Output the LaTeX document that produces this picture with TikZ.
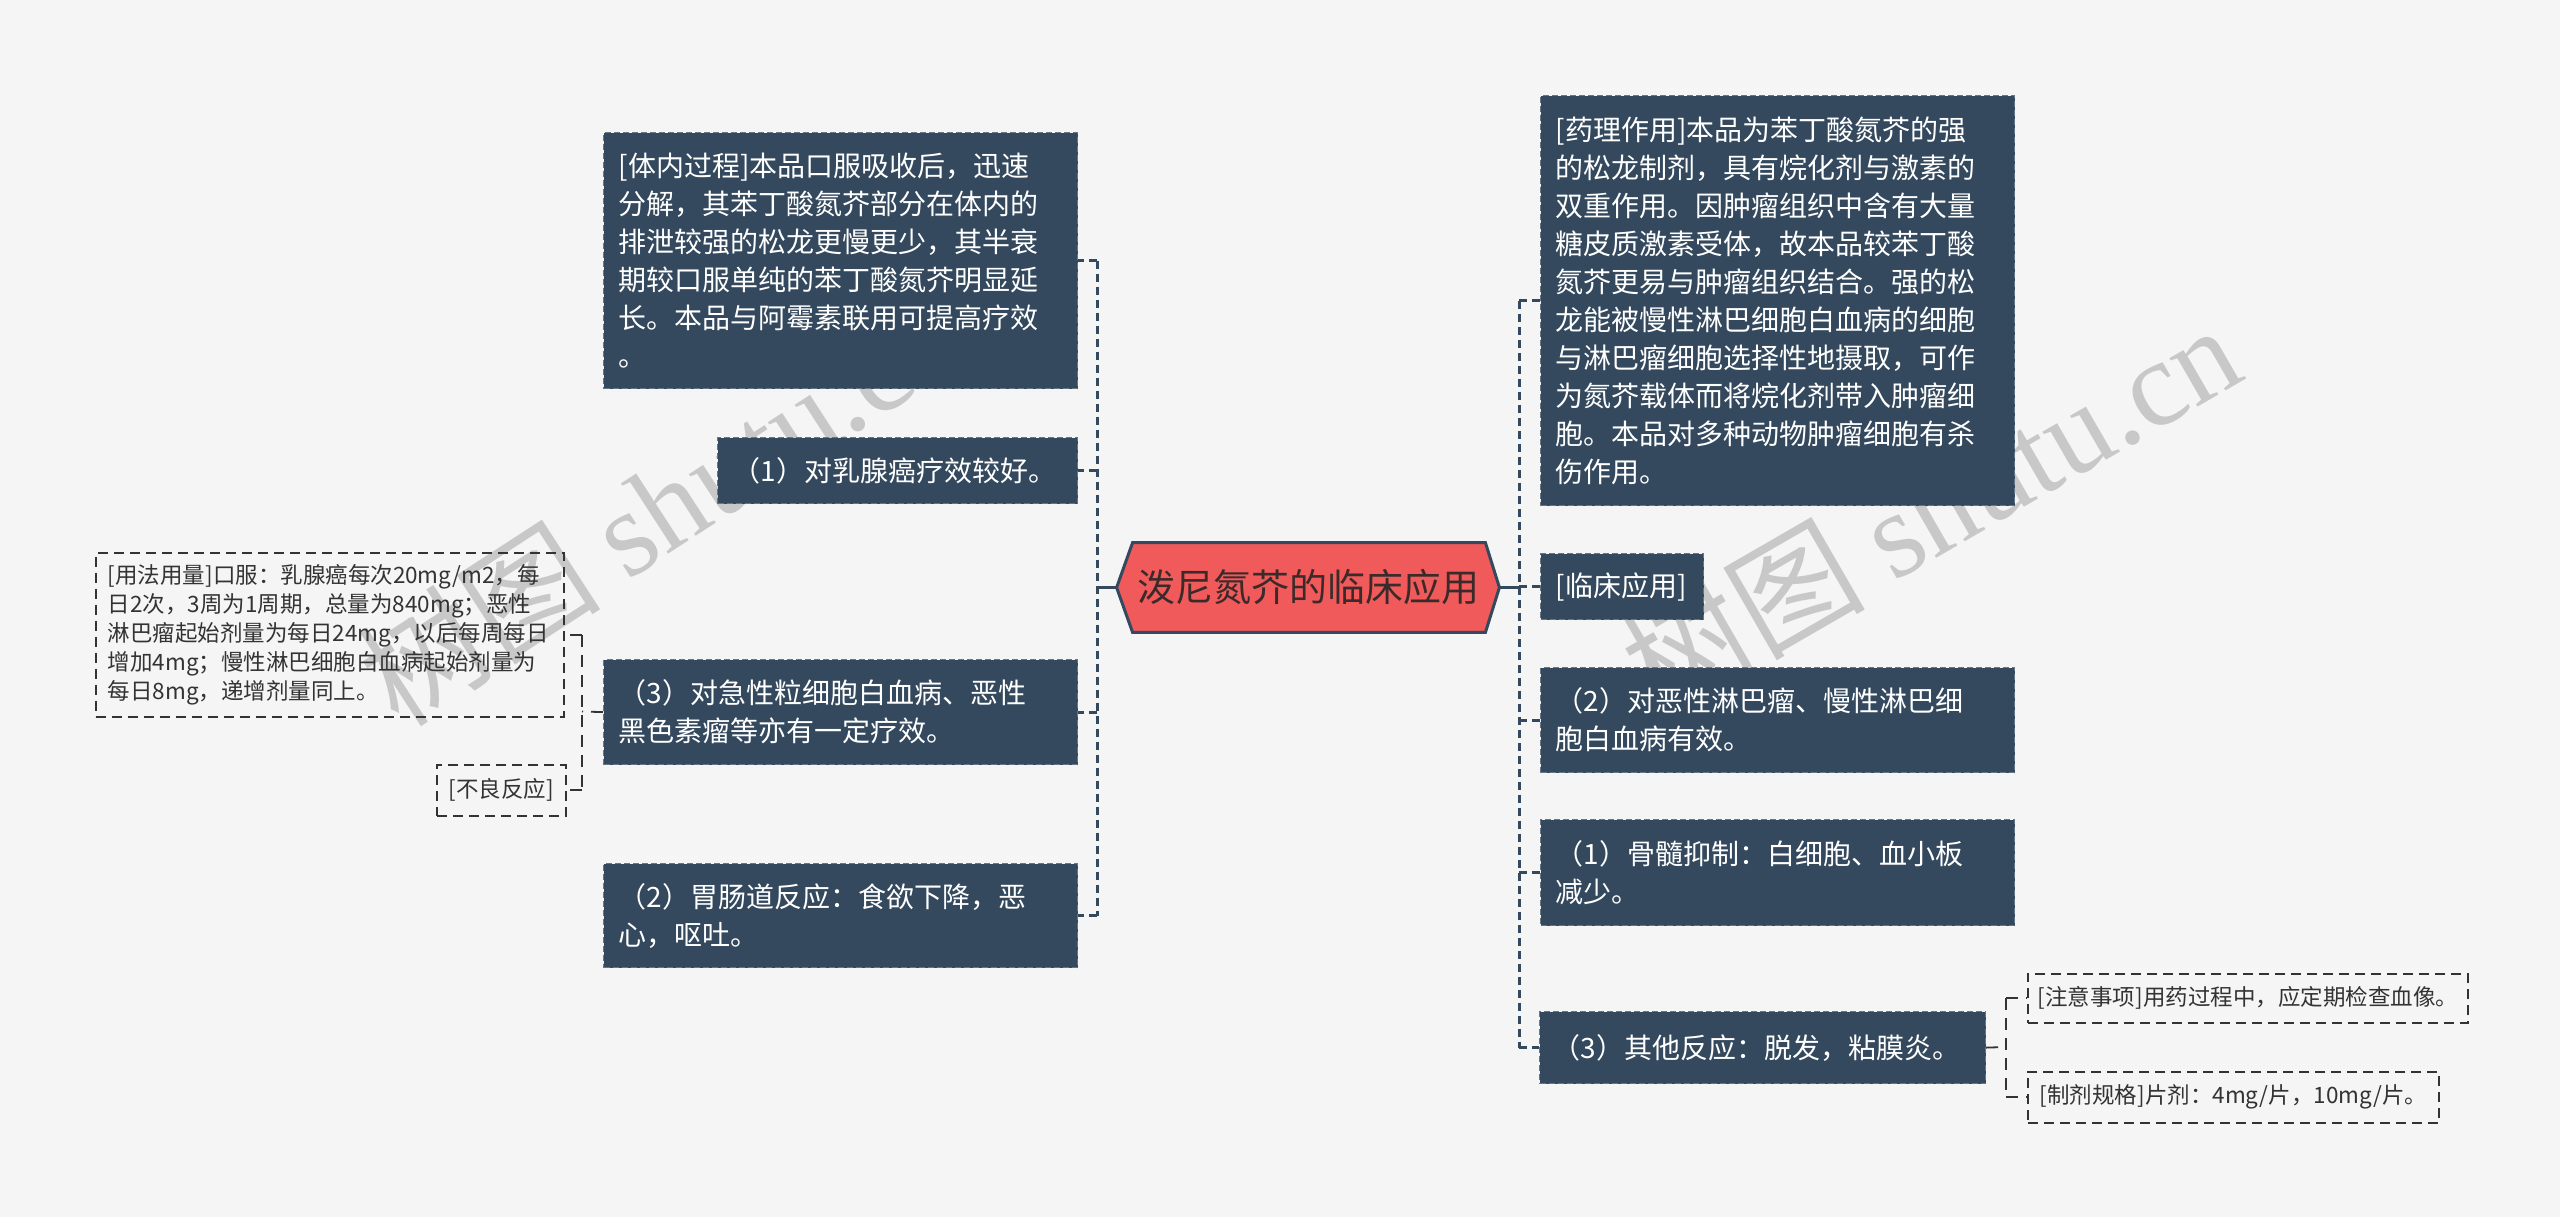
\documentclass[tikz,border=0pt]{standalone}
\usepackage{fontspec}
\setmainfont{Noto Sans CJK SC}
\newfontfamily\wmlatin{Liberation Serif}
\usetikzlibrary{backgrounds}
\definecolor{bgc}{HTML}{F5F5F5}
\definecolor{boxc}{HTML}{34495E}
\definecolor{rootc}{HTML}{F05A5A}
\definecolor{roottext}{HTML}{3C2A2A}
\definecolor{txtc}{HTML}{333333}
\definecolor{wmc}{HTML}{C8C8C8}
\tikzset{
  darkbox/.style={anchor=north west, fill=boxc, draw=boxc!75!white, dash pattern=on 3pt off 1.5pt,
    line width=0.6pt, text=white, align=left, inner xsep=7.5pt, inner ysep=0pt,
    font=\fontsize{14}{19}\selectfont},
  lightbox/.style={anchor=north west, draw=txtc, dash pattern=on 5pt off 3pt, line width=0.8pt,
    text=txtc, align=left, inner xsep=6pt, inner ysep=0pt, font=\fontsize{11.25}{14.5}\selectfont},
  rootnode/.style={minimum width=191pt, minimum height=44.5pt, inner sep=0pt, text=roottext,
    font=\fontsize{19}{22}\selectfont},
  hexshape/.style={fill=rootc, draw=boxc, line width=1.5pt, line join=miter},
  trunk/.style={draw=boxc, line width=1.5pt},
  bracket/.style={draw=boxc, line width=1.5pt, dash pattern=on 4pt off 2.5pt},
  thinline/.style={draw=txtc, line width=0.9pt, dash pattern=on 6pt off 4pt},
  watermark/.style={text=wmc, inner sep=0pt, font=\fontsize{61}{66}\selectfont},
}
\begin{document}
\begin{tikzpicture}[x=0.5pt, y=-0.5pt]
\useasboundingbox (0,0) rectangle (2560,1217);
\begin{scope}[on background layer]
  \fill[bgc] (0,0) rectangle (2560,1217);
  \node[watermark, rotate=33] (wm1) at (660,505) {树图 {\wmlatin shutu.cn}};
  \node[watermark, rotate=30] (wm2) at (1930,508) {树图 {\wmlatin shutu.cn}};
\end{scope}

% root
\node[rootnode] (root) at (1308,587.5) {泼尼氮芥的临床应用};
\begin{scope}[on background layer]
  \draw[hexshape] (root.west) -- ([xshift=8pt]root.north west) -- ([xshift=-7pt]root.north east)
    -- (root.east) -- ([xshift=-7pt]root.south east) -- ([xshift=8pt]root.south west) -- cycle;
\end{scope}

% left boxes
\node[darkbox, text width=222pt, minimum height=128pt] (L1) at (603,132)
  {[体内过程]本品口服吸收后，迅速\\分解，其苯丁酸氮芥部分在体内的\\排泄较强的松龙更慢更少，其半衰\\期较口服单纯的苯丁酸氮芥明显延\\长。本品与阿霉素联用可提高疗效\\。};
\node[darkbox, text width=165pt, minimum height=33pt] (L2) at (717,437)
  {（1）对乳腺癌疗效较好。};
\node[darkbox, text width=222pt, minimum height=52.5pt] (L3) at (603,659)
  {（3）对急性粒细胞白血病、恶性\\黑色素瘤等亦有一定疗效。};
\node[darkbox, text width=222pt, minimum height=52pt] (L4) at (603,863)
  {（2）胃肠道反应：食欲下降，恶\\心，呕吐。};

\node[lightbox, text width=222pt, inner xsep=6pt, minimum height=82pt] (S1) at (95,552)
  {[用法用量]口服：乳腺癌每次20mg/m2，每\\日2次，3周为1周期，总量为840mg；恶性\\淋巴瘤起始剂量为每日24mg，以后每周每日\\增加4mg；慢性淋巴细胞白血病起始剂量为\\每日8mg，递增剂量同上。};
\node[lightbox, minimum height=25.5pt, minimum width=63.5pt] (S2) at (436,764)
  {[不良反应]};

% right boxes
\node[darkbox, text width=222pt, minimum height=205pt] (R1) at (1540,95)
  {[药理作用]本品为苯丁酸氮芥的强\\的松龙制剂，具有烷化剂与激素的\\双重作用。因肿瘤组织中含有大量\\糖皮质激素受体，故本品较苯丁酸\\氮芥更易与肿瘤组织结合。强的松\\龙能被慢性淋巴细胞白血病的细胞\\与淋巴瘤细胞选择性地摄取，可作\\为氮芥载体而将烷化剂带入肿瘤细\\胞。本品对多种动物肿瘤细胞有杀\\伤作用。};
\node[darkbox, text width=66.5pt, minimum height=33pt] (R2) at (1540,553)
  {[临床应用]};
\node[darkbox, text width=222pt, minimum height=52.5pt] (R3) at (1540,667)
  {（2）对恶性淋巴瘤、慢性淋巴细\\胞白血病有效。};
\node[darkbox, text width=222pt, minimum height=53pt] (R4) at (1540,819)
  {（1）骨髓抑制：白细胞、血小板\\减少。};
\node[darkbox, text width=210pt, inner xsep=6.5pt, minimum height=36pt] (R5) at (1539,1011)
  {（3）其他反应：脱发，粘膜炎。};

\node[lightbox, inner xsep=5pt, minimum height=24.5pt, minimum width=218.5pt] (S3) at (2027,973)
  {[注意事项]用药过程中，应定期检查血像。};
\node[lightbox, minimum height=25.5pt, minimum width=205pt] (S4) at (2027,1071)
  {[制剂规格]片剂：4mg/片，10mg/片。};

% connectors: left
\coordinate (lj) at (1097,587.5);
\draw[trunk] (root.west) -- (lj);
\draw[bracket] (lj |- L1.east) -- (lj |- L4.east);
\foreach \n in {L1,L2,L3,L4} \draw[bracket] (lj |- \n.east) -- (\n.east);

% connectors: right
\coordinate (rj) at (1519,587.5);
\draw[trunk] (root.east) -- (rj);
\draw[bracket] (rj |- R1.west) -- (rj |- R5.west);
\foreach \n in {R1,R2,R3,R4,R5} \draw[bracket] (rj |- \n.west) -- (\n.west);

% nested left (from L3)
\coordinate (l3j) at (582,711.5);
\draw[thinline] (L3.west) -- (l3j);
\draw[thinline] (l3j |- S1.east) -- (l3j |- S2.east);
\foreach \n in {S1,S2} \draw[thinline] (l3j |- \n.east) -- (\n.east);

% nested right (from R5)
\coordinate (r5j) at (2006,1047);
\draw[thinline] (R5.east) -- (r5j);
\draw[thinline] (r5j |- S3.west) -- (r5j |- S4.west);
\foreach \n in {S3,S4} \draw[thinline] (r5j |- \n.west) -- (\n.west);
\end{tikzpicture}
\end{document}
